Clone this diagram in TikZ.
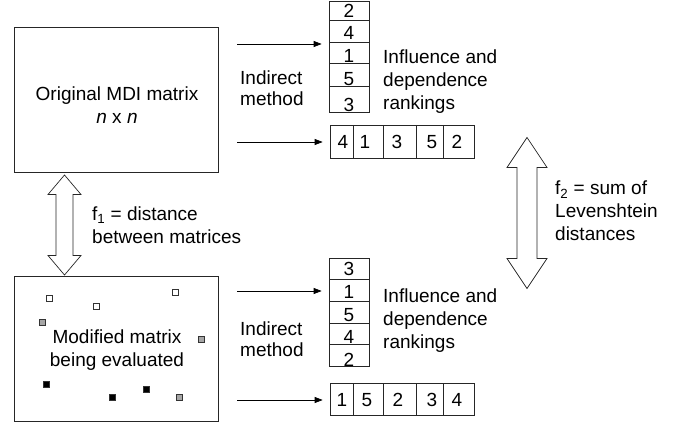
\documentclass[tikz,border=0pt]{standalone}
\usepackage{fontspec}
\setmainfont{Liberation Sans}
\usetikzlibrary{arrows.meta,calc}

\tikzset{
  matbox/.style={draw=black!85, line width=0.8pt, minimum width=204pt, minimum height=145pt, inner sep=0pt},
  cellbox/.style={draw=black!85, line width=0.7pt, inner sep=0pt},
  lbl/.style={align=left, anchor=west, inner sep=0pt},
  num/.style={inner sep=0pt},
  feed/.style={-{Triangle[length=8pt,width=6pt]}, line width=0.7pt},
  twoway/.style={draw=black!85, line width=0.7pt, fill=white},
  dot/.style={draw=black!80, line width=0.6pt, minimum size=6pt, inner sep=0pt}
}

% hollow double-headed arrow: x, top tip, bottom tip, half shaft, half head, head length
\newcommand{\bigdarrow}[6]{%
  \draw[twoway] (#1,#2) -- (#1+#5,#2+#6) -- (#1+#4,#2+#6) -- (#1+#4,#3-#6)
    -- (#1+#5,#3-#6) -- (#1,#3) -- (#1-#5,#3-#6) -- (#1-#4,#3-#6)
    -- (#1-#4,#2+#6) -- (#1-#5,#2+#6) -- cycle;}

\begin{document}
\begin{tikzpicture}[x=1pt, y=-1pt, font=\fontsize{19}{23}\selectfont]
    \useasboundingbox (0,0) rectangle (689,425);

    % Matrices
    \node[matbox] (orig) at (116,99.5) {};
    \node[align=center, inner sep=0pt] (origtxt) at (117,105)
        {Original MDI matrix\\\textit{n} x \textit{n}};
    \node[matbox] (mod) at (116,348.5) {};
    \node[align=center, inner sep=0pt] (modtxt) at (117,350)
        {Modified matrix\\being evaluated};

    % Modified entries
    \foreach \x/\y/\c [count=\i] in {49/298/white, 96/306/white, 175/292/white,
        42/322/black!35, 201/339/black!35, 179/397/black!35,
        46/384/black, 112/397/black, 146/389/black}
        \node[dot, fill=\c] (sq\i) at (\x,\y) {};

    % Rankings of the original matrix
    \node[cellbox, minimum width=40pt, minimum height=111pt] (rankA) at (349,56.5) {};
    \foreach \y in {20,42,63,86}
        \draw[cellbox] (329,\y) -- (369,\y);
    \foreach \d/\y [count=\i] in {2/10.5, 4/33, 1/56, 5/79, 3/104.5}
        \node[num] (ra\i) at (349,\y) {\d};

    \node[cellbox, minimum width=144pt, minimum height=33pt] (seqA) at (402,141.5) {};
    \foreach \x in {353,383,416,443}
        \draw[cellbox] (\x,125) -- (\x,158);
    \foreach \d/\x [count=\i] in {4/343, 1/365, 3/397, 5/432, 2/457}
        \node[num] (sa\i) at (\x,142) {\d};

    % Rankings of the modified matrix
    \node[cellbox, minimum width=40pt, minimum height=108pt] (rankB) at (349,312) {};
    \foreach \y in {279,301,323,344}
        \draw[cellbox] (329,\y) -- (369,\y);
    \foreach \d/\y [count=\i] in {3/269, 1/292, 5/315, 4/337, 2/360}
        \node[num] (rb\i) at (349,\y) {\d};

    \node[cellbox, minimum width=144pt, minimum height=32pt] (seqB) at (402,399) {};
    \foreach \x in {353,383,416,443}
        \draw[cellbox] (\x,383) -- (\x,415);
    \foreach \d/\x [count=\i] in {1/342, 5/367, 2/398, 3/432, 4/457}
        \node[num] (sb\i) at (\x,400) {\d};

    % Indirect method arrows
    \coordinate (in1) at (237,44);
    \coordinate (in2) at (237,142);
    \coordinate (in3) at (237,291);
    \coordinate (in4) at (237,400);
    \draw[feed, shorten >=7pt] (in1) -- (in1 -| rankA.west);
    \draw[feed, shorten >=7pt] (in2) -- (in2 -| seqA.west);
    \draw[feed, shorten >=7pt] (in3) -- (in3 -| rankB.west);
    \draw[feed, shorten >=7pt] (in4) -- (in4 -| seqB.west);

    % Labels
    \node[lbl, font=\fontsize{19}{20.5}\selectfont] (indA) at (240,88) {Indirect\\method};
    \node[lbl, font=\fontsize{19}{20.5}\selectfont] (indB) at (240,339) {Indirect\\method};
    \node[lbl] (infA) at (383,81.5) {Influence and\\dependence\\rankings};
    \node[lbl] (infB) at (383,321) {Influence and\\dependence\\rankings};

    % Objective functions
    \bigdarrow{64.5}{175}{275}{8.5}{16.5}{19.5}
    \bigdarrow{527}{137.5}{288.5}{10}{20}{30}
    \node[lbl] (fone) at (92,225) {f\textsubscript{1} = distance\\between matrices};
    \node[lbl] (ftwo) at (555,211) {f\textsubscript{2} = sum of\\Levenshtein\\distances};
\end{tikzpicture}
\end{document}
